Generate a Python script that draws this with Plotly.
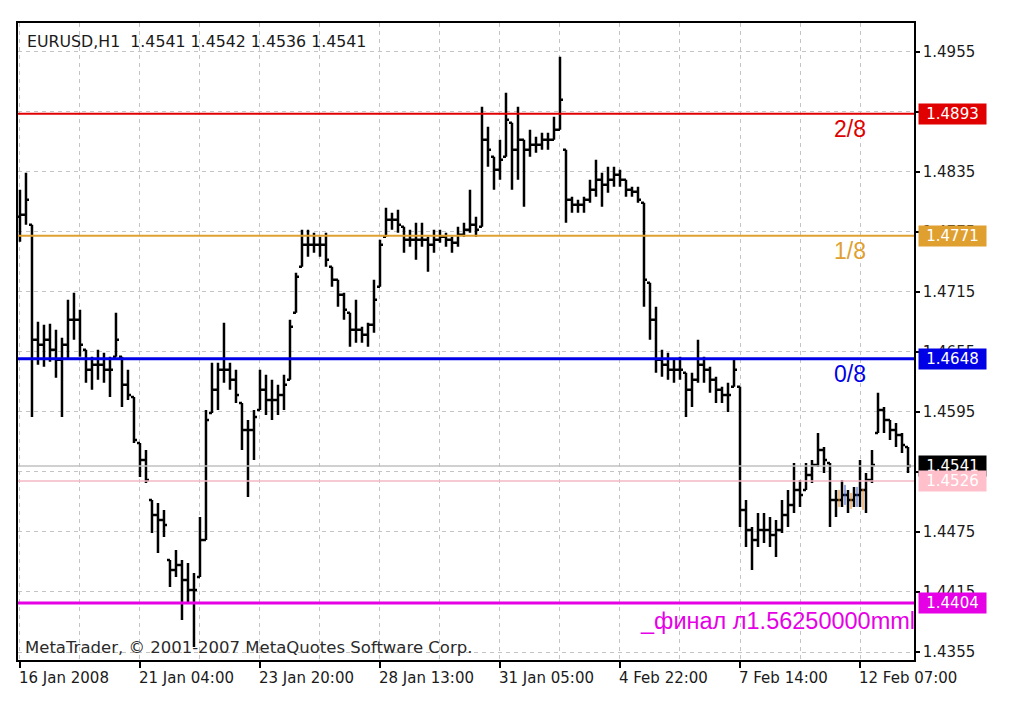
import numpy as np
import plotly.graph_objects as go

# ---------------- data ----------------
symbol_title = "EURUSD,H1  1.4541 1.4542 1.4536 1.4541"
copyright_text = "MetaTrader, \u00a9 2001-2007 MetaQuotes Software Corp."

x_tick_labels = ["16 Jan 2008", "21 Jan 04:00", "23 Jan 20:00", "28 Jan 13:00",
                 "31 Jan 05:00", "4 Feb 22:00", "7 Feb 14:00", "12 Feb 07:00"]

high = [1.4817, 1.4834, 1.4782, 1.4685, 1.4682, 1.4683, 1.4677, 1.4669, 1.4707, 1.4714,
        1.4697, 1.4657, 1.4650, 1.4657, 1.4654, 1.4650, 1.4694, 1.4650, 1.4637, 1.4610,
        1.4564, 1.4557, 1.4507, 1.4504, 1.4497, 1.4447, 1.4457, 1.4447, 1.4444, 1.4434,
        1.4490, 1.4597, 1.4644, 1.4644, 1.4684, 1.4644, 1.4637, 1.4604, 1.4587, 1.4597,
        1.4637, 1.4632, 1.4627, 1.4622, 1.4632, 1.4687, 1.4734, 1.4777, 1.4777, 1.4774,
        1.4770, 1.4774, 1.4740, 1.4727, 1.4714, 1.4694, 1.4707, 1.4680, 1.4684, 1.4727,
        1.4767, 1.4799, 1.4794, 1.4797, 1.4780, 1.4777, 1.4784, 1.4784, 1.4770, 1.4777,
        1.4777, 1.4774, 1.4770, 1.4780, 1.4784, 1.4817, 1.4790, 1.4900, 1.4880, 1.4850,
        1.4867, 1.4914, 1.4884, 1.4900, 1.4867, 1.4877, 1.4870, 1.4874, 1.4874, 1.4890,
        1.4950, 1.4857, 1.4810, 1.4807, 1.4810, 1.4827, 1.4847, 1.4834, 1.4840, 1.4840,
        1.4837, 1.4827, 1.4820, 1.4820, 1.4804, 1.4724, 1.4700, 1.4657, 1.4654, 1.4647,
        1.4650, 1.4634, 1.4634, 1.4667, 1.4650, 1.4640, 1.4630, 1.4620, 1.4624, 1.4647,
        1.4620, 1.4507, 1.4480, 1.4494, 1.4494, 1.4490, 1.4487, 1.4507, 1.4517, 1.4544,
        1.4527, 1.4544, 1.4547, 1.4574, 1.4560, 1.4544, 1.4517, 1.4527, 1.4517, 1.4520,
        1.4547, 1.4534, 1.4557, 1.4614, 1.4600, 1.4587, 1.4584, 1.4574, 1.4560]

low = [1.4765, 1.4782, 1.4590, 1.4642, 1.4640, 1.4645, 1.4629, 1.4590, 1.4647, 1.4667,
       1.4650, 1.4624, 1.4617, 1.4627, 1.4624, 1.4610, 1.4650, 1.4600, 1.4607, 1.4564,
       1.4530, 1.4524, 1.4474, 1.4454, 1.4470, 1.4420, 1.4430, 1.4387, 1.4404, 1.4360,
       1.4430, 1.4467, 1.4594, 1.4597, 1.4624, 1.4617, 1.4604, 1.4557, 1.4510, 1.4547,
       1.4597, 1.4592, 1.4587, 1.4592, 1.4597, 1.4627, 1.4694, 1.4740, 1.4750, 1.4754,
       1.4750, 1.4740, 1.4720, 1.4700, 1.4687, 1.4660, 1.4664, 1.4664, 1.4660, 1.4674,
       1.4720, 1.4770, 1.4777, 1.4774, 1.4754, 1.4760, 1.4747, 1.4760, 1.4735, 1.4754,
       1.4764, 1.4760, 1.4754, 1.4760, 1.4770, 1.4774, 1.4770, 1.4780, 1.4840, 1.4817,
       1.4827, 1.4850, 1.4817, 1.4827, 1.4800, 1.4850, 1.4854, 1.4857, 1.4857, 1.4867,
       1.4877, 1.4784, 1.4794, 1.4794, 1.4794, 1.4804, 1.4810, 1.4800, 1.4814, 1.4820,
       1.4820, 1.4810, 1.4810, 1.4804, 1.4700, 1.4667, 1.4634, 1.4630, 1.4627, 1.4624,
       1.4627, 1.4590, 1.4600, 1.4624, 1.4624, 1.4614, 1.4604, 1.4604, 1.4595, 1.4620,
       1.4480, 1.4460, 1.4437, 1.4460, 1.4464, 1.4460, 1.4450, 1.4474, 1.4480, 1.4494,
       1.4500, 1.4517, 1.4524, 1.4540, 1.4534, 1.4480, 1.4490, 1.4500, 1.4494, 1.4500,
       1.4500, 1.4494, 1.4524, 1.4574, 1.4574, 1.4567, 1.4560, 1.4554, 1.4534]

close = [1.4792, 1.4807, 1.4667, 1.4662, 1.4667, 1.4657, 1.4647, 1.4662, 1.4687, 1.4687,
         1.4662, 1.4637, 1.4642, 1.4642, 1.4637, 1.4637, 1.4667, 1.4622, 1.4612, 1.4567,
         1.4547, 1.4527, 1.4492, 1.4487, 1.4482, 1.4437, 1.4442, 1.4427, 1.4417, 1.4417,
         1.4467, 1.4587, 1.4617, 1.4637, 1.4637, 1.4627, 1.4612, 1.4577, 1.4577, 1.4590,
         1.4617, 1.4607, 1.4607, 1.4612, 1.4622, 1.4680, 1.4730, 1.4762, 1.4762, 1.4762,
         1.4762, 1.4747, 1.4727, 1.4712, 1.4697, 1.4677, 1.4677, 1.4672, 1.4682, 1.4707,
         1.4762, 1.4787, 1.4787, 1.4782, 1.4767, 1.4767, 1.4767, 1.4767, 1.4762, 1.4767,
         1.4770, 1.4767, 1.4764, 1.4772, 1.4777, 1.4782, 1.4777, 1.4867, 1.4857, 1.4837,
         1.4847, 1.4887, 1.4857, 1.4867, 1.4857, 1.4862, 1.4862, 1.4867, 1.4867, 1.4877,
         1.4907, 1.4807, 1.4802, 1.4802, 1.4807, 1.4817, 1.4827, 1.4822, 1.4827, 1.4832,
         1.4827, 1.4817, 1.4815, 1.4807, 1.4727, 1.4687, 1.4647, 1.4642, 1.4637, 1.4637,
         1.4637, 1.4617, 1.4627, 1.4642, 1.4637, 1.4627, 1.4617, 1.4612, 1.4612, 1.4637,
         1.4497, 1.4477, 1.4467, 1.4477, 1.4477, 1.4472, 1.4477, 1.4492, 1.4502, 1.4517,
         1.4512, 1.4532, 1.4542, 1.4557, 1.4547, 1.4507, 1.4507, 1.4512, 1.4507, 1.4512,
         1.4517, 1.4527, 1.4542, 1.4597, 1.4587, 1.4577, 1.4572, 1.4562, 1.4541]
first_open = 1.4790

# small coloured candles of an indicator near the right end (slot, high, low, colour)
ind_slots = [136.5, 137.5, 138.5, 139.5, 140.5]
ind_high = [1.4517, 1.4522, 1.4514, 1.4520, 1.4518]
ind_low = [1.4500, 1.4502, 1.4498, 1.4500, 1.4497]
ind_colors = ["#e08020", "#3050c0", "#e08020", "#3050c0", "#e08020"]

# Murrey-math style levels
level_prices = [1.4893, 1.4771, 1.4648, 1.4404]
level_texts = ["2/8", "1/8", "0/8", "_\u0444\u0438\u043d\u0430\u043b \u043b1.56250000mml"]
level_colors = ["#e00000", "#e0a030", "#0000e6", "#e600e6"]
level_widths = [2, 2, 3, 3]

bid_price = 1.4541
pink_price = 1.4526

# ---------------- build ----------------
n = len(high)
xs = list(range(n))
prev_close = [first_open] + close[:-1]
open_ = list(np.clip(prev_close, low, high))

fig = go.Figure()
fig.add_trace(go.Ohlc(
    x=xs, open=open_, high=high, low=low, close=close,
    increasing=dict(line=dict(color="black", width=2.5)),
    decreasing=dict(line=dict(color="black", width=2.5)),
    tickwidth=0.5, hoverinfo="skip", showlegend=False))

for s, h, l, c in zip(ind_slots, ind_high, ind_low, ind_colors):
    fig.add_trace(go.Scatter(x=[s, s], y=[l, h], mode="lines",
                             line=dict(color=c, width=1), hoverinfo="skip", showlegend=False))

GRID = "#c4c4c4"
FONT = "DejaVu Sans"
DASH = "4px,4px"

shapes = []
shapes.append(dict(type="line", xref="paper", x0=0, x1=1, yref="y", y0=bid_price, y1=bid_price,
                   line=dict(color="#c0c0c0", width=1.5), layer="above"))
shapes.append(dict(type="line", xref="paper", x0=0, x1=1, yref="y", y0=pink_price, y1=pink_price,
                   line=dict(color="#f4b8c4", width=1.5), layer="above"))
for p, c, w in zip(level_prices, level_colors, level_widths):
    shapes.append(dict(type="line", xref="paper", x0=0, x1=1, yref="y", y0=p, y1=p,
                       line=dict(color=c, width=w), layer="above"))

annotations = []
annotations.append(dict(text=symbol_title, xref="paper", yref="paper", x=0, y=1,
                        xanchor="left", yanchor="top", xshift=7, yshift=-7, showarrow=False,
                        font=dict(family=FONT, size=15.8, color="#1a1a1a")))
annotations.append(dict(text=copyright_text, xref="paper", yref="paper", x=0, y=0,
                        xanchor="left", yanchor="bottom", xshift=5, yshift=1, showarrow=False,
                        font=dict(family=FONT, size=16.5, color="#2a2a2a")))
for i, t in enumerate(x_tick_labels):
    annotations.append(dict(text=t, xref="x", yref="paper", x=i * 20, y=0,
                            xanchor="left", yanchor="top", xshift=-3, yshift=-7, showarrow=False,
                            font=dict(family=FONT, size=15, color="#1a1a1a")))
for p, t, c in zip(level_prices[:3], level_texts[:3], level_colors[:3]):
    annotations.append(dict(text=t, xref="x", yref="y", x=135.3, y=p,
                            xanchor="left", yanchor="middle", yshift=-15, showarrow=False,
                            font=dict(family="Liberation Sans", size=23, color=c)))
annotations.append(dict(text=level_texts[3], xref="paper", yref="y", x=1, y=level_prices[3],
                        xanchor="right", yanchor="middle", xshift=3, yshift=-18, showarrow=False,
                        font=dict(family="Liberation Sans", size=23.5, color=level_colors[3])))
box_prices = level_prices[:3] + [bid_price, pink_price, level_prices[3]]
box_colors = level_colors[:3] + ["#000000", "#ffc0cb", level_colors[3]]
for p, c in zip(box_prices, box_colors):
    annotations.append(dict(text=f"{p:.4f}", xref="paper", yref="y", x=1, y=p,
                            xanchor="left", yanchor="middle", xshift=4, showarrow=False,
                            bgcolor=c, width=63, height=16, borderpad=2, align="center",
                            font=dict(family=FONT, size=15, color="white")))

fig.update_layout(
    width=1015, height=719,
    margin=dict(l=18, r=101, t=23, b=59),
    paper_bgcolor="white", plot_bgcolor="white",
    showlegend=False,
    shapes=shapes, annotations=annotations,
    xaxis=dict(
        range=[-0.33, 149], rangeslider=dict(visible=False),
        tickmode="array", tickvals=[i * 20 for i in range(len(x_tick_labels))],
        ticktext=[""] * len(x_tick_labels),
        ticks="outside", ticklen=6, tickcolor="black", tickwidth=1.5,
        showgrid=True, gridcolor=GRID, griddash=DASH, gridwidth=1,
        minor=dict(tickmode="array", tickvals=list(range(0, 150, 10)), showgrid=True,
                   gridcolor=GRID, griddash=DASH, gridwidth=1, ticks=""),
        showline=True, linecolor="black", linewidth=1.5, mirror=True, zeroline=False,
        fixedrange=True,
    ),
    yaxis=dict(
        side="right", range=[1.4347, 1.49837],
        tickmode="linear", tick0=1.4355, dtick=0.006, tickformat=".4f",
        ticks="outside", ticklen=4, tickcolor="black", tickwidth=1.5,
        tickfont=dict(family=FONT, size=15, color="#1a1a1a"),
        showgrid=True, gridcolor=GRID, griddash=DASH, gridwidth=1,
        showline=True, linecolor="black", linewidth=1.5, mirror=True, zeroline=False,
        fixedrange=True,
    ),
)

fig.write_html("out.html", config={"displayModeBar": False},
               post_script="document.body.style.margin='0';")
